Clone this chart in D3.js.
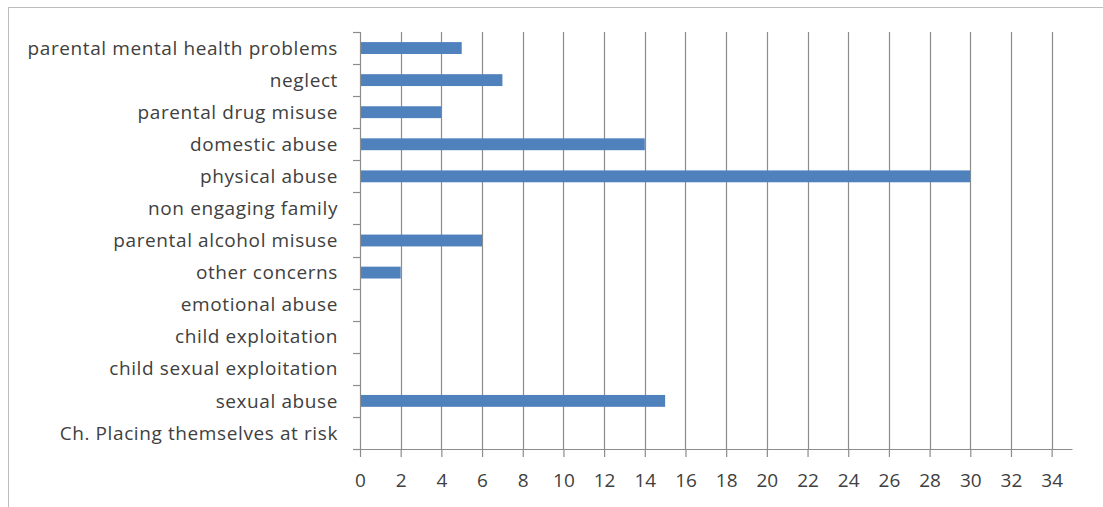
<!DOCTYPE html>
<html>
<head>
<meta charset="utf-8">
<script src="https://cdn.jsdelivr.net/npm/d3@7"></script>
<style>
  html, body { margin: 0; padding: 0; background: #fff; }
  svg { display: block; }
  text { font-family: "Open Sans", "Liberation Sans", sans-serif; fill: #404040; }
</style>
</head>
<body>
<svg id="chart" width="1103" height="507"></svg>
<script>
// Concerns recorded, listed top to bottom
const categories = [
  "parental mental health problems",
  "neglect",
  "parental drug misuse",
  "domestic abuse",
  "physical abuse",
  "non engaging family",
  "parental alcohol misuse",
  "other concerns",
  "emotional abuse",
  "child exploitation",
  "child sexual exploitation",
  "sexual abuse",
  "Ch. Placing themselves at risk"
];
const counts = [5, 7, 4, 14, 30, 0, 6, 2, 0, 0, 0, 15, 0];
const xTicks = [0, 2, 4, 6, 8, 10, 12, 14, 16, 18, 20, 22, 24, 26, 28, 30, 32, 34];
const xMax = 35;

const svg = d3.select("#chart");
const margin = { left: 360, top: 32, right: 1103 - 1072, bottom: 507 - 449 };
const W = 1103, H = 507;
const axisColor = "#8c8c8c";

// outer chart frame
svg.append("rect")
  .attr("x", 8.5).attr("y", 7.5)
  .attr("width", 1120).attr("height", 520)
  .attr("fill", "none").attr("stroke", "#bdbdbd").attr("stroke-width", 1);

const x = d3.scaleLinear().domain([0, xMax]).range([margin.left, W - margin.right]);
const y = d3.scaleBand().domain(categories).range([margin.top, H - margin.bottom]).paddingInner(0.63).paddingOuter(0.315);
const band = d3.scaleBand().domain(categories).range([margin.top, H - margin.bottom]);

// vertical gridlines
svg.append("g").selectAll("line").data(xTicks.filter(d => d > 0)).join("line")
  .attr("x1", d => Math.round(x(d)) + 0.5).attr("x2", d => Math.round(x(d)) + 0.5)
  .attr("y1", margin.top).attr("y2", H - margin.bottom)
  .attr("stroke", axisColor).attr("stroke-width", 1.2);

// bars
svg.append("g").selectAll("rect").data(categories).join("rect")
  .attr("x", x(0))
  .attr("y", d => y(d))
  .attr("width", (d, i) => x(counts[i]) - x(0))
  .attr("height", y.bandwidth())
  .attr("fill", "#4f81bd");

// x axis
const xAxis = d3.axisBottom(x).tickValues(xTicks).tickSize(8).tickPadding(17).tickSizeOuter(0);
const gx = svg.append("g").attr("transform", `translate(0,${H - margin.bottom})`).call(xAxis);
gx.select(".domain").attr("stroke", axisColor).attr("stroke-width", 1.2);
gx.selectAll(".tick line").attr("stroke", axisColor).attr("stroke-width", 1.2);
gx.selectAll(".tick text").attr("font-size", 19).style("fill", "#404040")
  .attr("font-family", "Open Sans, sans-serif");

// y axis: line with ticks at the band boundaries
const gy = svg.append("g");
gy.append("line")
  .attr("x1", x(0) + 0.5).attr("x2", x(0) + 0.5)
  .attr("y1", margin.top).attr("y2", H - margin.bottom)
  .attr("stroke", axisColor).attr("stroke-width", 1.2);
const boundaries = categories.map(c => band(c)).concat([H - margin.bottom]);
gy.selectAll("line.tk").data(boundaries).join("line").attr("class", "tk")
  .attr("x1", x(0) - 7).attr("x2", x(0))
  .attr("y1", d => Math.round(d) + 0.5).attr("y2", d => Math.round(d) + 0.5)
  .attr("stroke", axisColor).attr("stroke-width", 1.2);
gy.selectAll("text").data(categories).join("text")
  .attr("x", 338)
  .attr("y", d => band(d) + band.bandwidth() / 2)
  .attr("dy", "0.35em")
  .attr("text-anchor", "end")
  .attr("font-size", 19)
  .attr("letter-spacing", 0.6)
  .text(d => d);
</script>
</body>
</html>
